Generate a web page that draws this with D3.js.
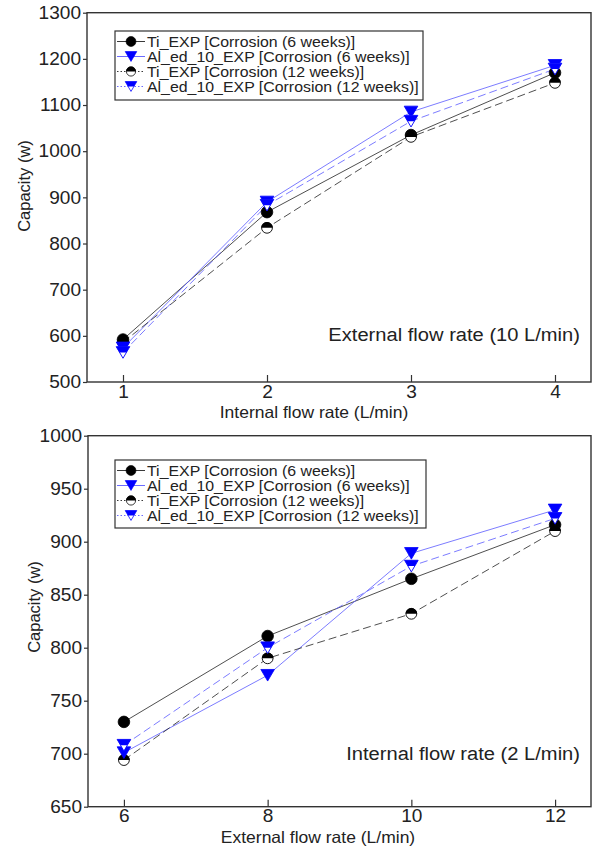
<!DOCTYPE html>
<html>
<head>
<meta charset="utf-8">
<script src="https://cdn.jsdelivr.net/npm/d3@7/dist/d3.min.js"></script>
<style>
  body { margin: 0; background: #fff; }
  text { font-family: Arial, "Liberation Sans", Helvetica, sans-serif; fill: #222; }
</style>
</head>
<body>
<svg id="chart" width="596" height="851"></svg>
<script>
// ---- data ----
const seriesLabels = [
  "Ti_EXP [Corrosion (6 weeks)]",
  "Al_ed_10_EXP [Corrosion (6 weeks)]",
  "Ti_EXP [Corrosion (12 weeks)]",
  "Al_ed_10_EXP [Corrosion (12 weeks)]"
];

// Panel (a): varying internal flow rate, external flow fixed at 10 L/min
const internalFlow = [1, 2, 3, 4];
const aTiSix      = [592, 868, 1035, 1170];
const aAlSix      = [574, 890, 1085, 1186];
const aTiTwelve   = [586, 834, 1031, 1148];
const aAlTwelve   = [564, 883, 1065, 1178];
const aYTicks = [500, 600, 700, 800, 900, 1000, 1100, 1200, 1300];
const aXTicks = [1, 2, 3, 4];

// Panel (b): varying external flow rate, internal flow fixed at 2 L/min
const externalFlow = [6, 8, 10, 12];
const bTiSix      = [730, 811, 865, 916];
const bAlSix      = [701, 774, 889, 930];
const bTiTwelve   = [694, 790, 832, 910];
const bAlTwelve   = [708, 800, 877, 922];
const bYTicks = [650, 700, 750, 800, 850, 900, 950, 1000];
const bXTicks = [6, 8, 10, 12];

// ---- styling ----
const SX = 1.06;              // horizontal text stretch
const BLACK = "#222";
const BLUE = "#0000ff";
const BLUE_LINE = "#5a5aff";
const seriesStyle = [
  { marker: "circle",      line: BLACK,     dash: null,  legendDash: null },
  { marker: "triangle",    line: BLUE_LINE, dash: null,  legendDash: null },
  { marker: "halfCircle",  line: BLACK,     dash: "8,4", legendDash: "1.5,2" },
  { marker: "halfTriangle",line: BLUE_LINE, dash: "8,4", legendDash: "1.5,2" }
];

const svg = d3.select("#chart");

function stretchedText(g, x, y, str, size, anchor) {
  return g.append("text")
    .attr("transform", `translate(${x},${y}) scale(${SX},1)`)
    .attr("text-anchor", anchor || "start")
    .style("font-size", size + "px")
    .text(str);
}

// marker shapes, drawn around (0,0)
function drawMarker(g, kind) {
  const r = 5.8, tw = 6.8, th = 5.8;
  if (kind === "circle") {
    g.append("circle").attr("r", r).attr("fill", "#000").attr("stroke", "#000").attr("stroke-width", 0.8);
  } else if (kind === "halfCircle") {
    g.append("circle").attr("r", r - 0.4).attr("fill", "#fff").attr("stroke", "#000").attr("stroke-width", 0.9);
    g.append("path").attr("d", `M${-r},0 A${r},${r} 0 0 1 ${r},0 Z`).attr("fill", "#000");
  } else if (kind === "triangle") {
    g.append("path").attr("d", `M${-tw},${-th} L${tw},${-th} L0,${th} Z`)
      .attr("fill", BLUE).attr("stroke", BLUE).attr("stroke-width", 0.8);
  } else if (kind === "halfTriangle") {
    g.append("path").attr("d", `M${-tw},${-th} L${tw},${-th} L0,${th} Z`)
      .attr("fill", "#fff").attr("stroke", BLUE).attr("stroke-width", 0.9);
    g.append("path").attr("d", `M${-tw},${-th} L${tw},${-th} L${tw / 2},0 L${-tw / 2},0 Z`)
      .attr("fill", BLUE);
  }
}

function drawPanel(cfg) {
  const g = svg.append("g");
  const x = d3.scaleLinear().domain(cfg.xDomain).range([cfg.left, cfg.right]);
  const y = d3.scaleLinear().domain(cfg.yDomain).range([cfg.bottom, cfg.top]);

  // y axis: outward ticks
  const ya = g.append("g").attr("transform", `translate(${cfg.left},0)`)
    .call(d3.axisLeft(y).tickValues(cfg.yTicks).tickSizeInner(4).tickSizeOuter(0).tickPadding(2)
      .tickFormat(d3.format("d")));
  ya.selectAll("text").each(function () {
    const t = d3.select(this);
    const tx = +t.attr("x");
    t.attr("x", 0).attr("transform", `translate(${tx},0) scale(${SX},1)`);
  }).style("font-size", "18px").attr("fill", "#222");

  // x axis: inward ticks
  const xa = g.append("g").attr("transform", `translate(0,${cfg.bottom})`)
    .call(d3.axisBottom(x).tickValues(cfg.xTicks).tickSizeInner(-7).tickSizeOuter(0).tickPadding(3)
      .tickFormat(d3.format("d")));
  xa.selectAll("text").attr("transform", `scale(${SX},1)`)
    .style("font-size", "18px").attr("fill", "#222");

  [ya, xa].forEach(a => {
    a.selectAll("line").attr("stroke", "#333").attr("stroke-width", 1.2);
    a.select(".domain").remove();
  });

  // frame
  g.append("rect")
    .attr("x", cfg.left).attr("y", cfg.top)
    .attr("width", cfg.right - cfg.left).attr("height", cfg.bottom - cfg.top)
    .attr("fill", "none").attr("stroke", "#333").attr("stroke-width", 1.4);

  // axis titles
  stretchedText(g, cfg.xTitleX, cfg.bottom + 36, cfg.xTitle, 16.5, "middle");
  g.append("text")
    .attr("transform", `translate(${cfg.yTitleX},${cfg.yTitleY}) rotate(-90)`)
    .attr("text-anchor", "middle")
    .style("font-size", "16.5px")
    .text("Capacity (w)");

  // annotation
  stretchedText(g, cfg.right - 11, cfg.noteY, cfg.note, 19, "end");

  // lines
  const line = d3.line().x(d => x(d[0])).y(d => y(d[1]));
  cfg.series.forEach((vals, i) => {
    const pts = cfg.xs.map((xv, j) => [xv, vals[j]]);
    g.append("path").datum(pts).attr("d", line)
      .attr("fill", "none")
      .attr("stroke", seriesStyle[i].line)
      .attr("stroke-width", 0.8)
      .attr("stroke-dasharray", seriesStyle[i].dash);
  });

  // markers: circles first, triangles on top
  [0, 2, 1, 3].forEach(i => {
    cfg.series[i].forEach((v, j) => {
      const mg = g.append("g").attr("transform", `translate(${x(cfg.xs[j])},${y(v)})`);
      drawMarker(mg, seriesStyle[i].marker);
    });
  });

  // legend
  const L = cfg.legend;
  const lg = g.append("g").attr("transform", `translate(${L.x},${L.y})`);
  lg.append("rect").attr("width", L.w).attr("height", L.h)
    .attr("fill", "#fff").attr("stroke", "#333").attr("stroke-width", 1.2);
  seriesLabels.forEach((lab, i) => {
    const cy = 10.5 + 15 * i;
    lg.append("line").attr("x1", 2).attr("x2", 30).attr("y1", cy).attr("y2", cy)
      .attr("stroke", seriesStyle[i].line).attr("stroke-width", 0.9)
      .attr("stroke-dasharray", seriesStyle[i].legendDash);
    const mg = lg.append("g").attr("transform", `translate(16,${cy}) scale(0.85)`);
    drawMarker(mg, seriesStyle[i].marker);
    stretchedText(lg, 32, cy + 5.3, lab, 15, "start");
  });
}

drawPanel({
  left: 87, right: 591, top: 12.7, bottom: 382,
  xDomain: [0.75, 4.25], yDomain: [500, 1300],
  xTicks: aXTicks, yTicks: aYTicks, xs: internalFlow,
  series: [aTiSix, aAlSix, aTiTwelve, aAlTwelve],
  xTitle: "Internal flow rate (L/min)", xTitleX: 314,
  yTitleX: 30, yTitleY: 186,
  note: "External flow rate (10 L/min)", noteY: 341,
  legend: { x: 115, y: 31, w: 308, h: 69 }
});

drawPanel({
  left: 88, right: 591, top: 435.7, bottom: 806.7,
  xDomain: [5.5, 12.5], yDomain: [650, 1000],
  xTicks: bXTicks, yTicks: bYTicks, xs: externalFlow,
  series: [bTiSix, bAlSix, bTiTwelve, bAlTwelve],
  xTitle: "External flow rate (L/min)", xTitleX: 318,
  yTitleX: 40, yTitleY: 607,
  note: "Internal flow rate (2 L/min)", noteY: 760,
  legend: { x: 115, y: 460, w: 311, h: 68 }
});
</script>
</body>
</html>
